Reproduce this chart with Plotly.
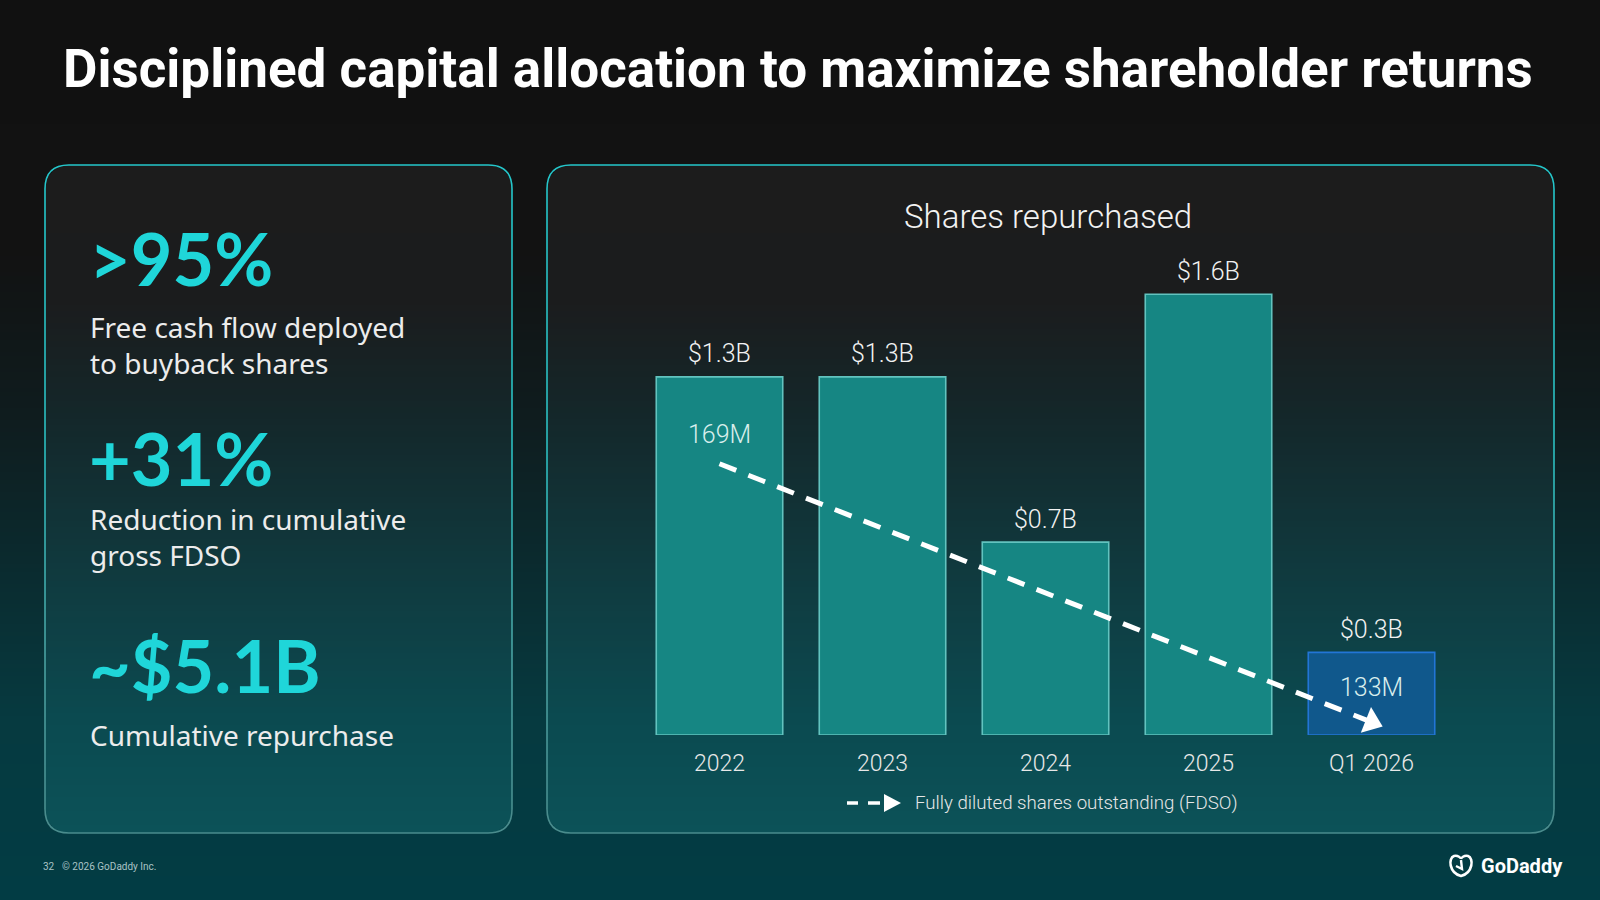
import math
import plotly.graph_objects as go

# ---------------- data ----------------
categories = ["2022", "2023", "2024", "2025", "Q1 2026"]
repurchase_b = [1.3, 1.3, 0.7, 1.6, 0.3]
repurchase_labels = ["$1.3B", "$1.3B", "$0.7B", "$1.6B", "$0.3B"]
fdso_x = ["2022", "Q1 2026"]
fdso_m = [169, 133]
fdso_labels = ["169M", "133M"]
stat_values = [">95%", "+31%", "~$5.1B"]
stat_texts = ["Free cash flow deployed<br>to buyback shares",
              "Reduction in cumulative<br>gross FDSO",
              "Cumulative repurchase"]

W, H = 1600, 900


def px(x):
    return x / W


def py(y):
    return 1 - y / H


def hex2rgb(h):
    h = h.lstrip("#")
    return tuple(int(h[i:i + 2], 16) for i in (0, 2, 4))


def interp(stops, y):
    if y <= stops[0][0]:
        return stops[0][1]
    for (y0, c0), (y1, c1) in zip(stops, stops[1:]):
        if y0 <= y <= y1:
            t = (y - y0) / (y1 - y0)
            a, b = hex2rgb(c0), hex2rgb(c1)
            return "rgb(%d,%d,%d)" % tuple(round(a[i] + (b[i] - a[i]) * t) for i in range(3))
    return stops[-1][1]


shapes = []

# background gradient
bg_stops = [(0, "#111111"), (250, "#121212"), (415, "#0f1c1e"), (720, "#063a40"), (900, "#023c44")]
for y in range(0, 900, 4):
    shapes.append(dict(type="rect", xref="paper", yref="paper", x0=0, x1=1,
                       y0=py(y + 5), y1=py(y), fillcolor=interp(bg_stops, y + 2),
                       line=dict(width=0), layer="below"))

# panels
panel_stops = [(165, "#1c1c1c"), (300, "#1b1c1d"), (415, "#14272a"), (600, "#0f3d42"), (720, "#0b4a50"), (833, "#0c5258")]
border_stops = [(165, "#25c6ca"), (450, "#2cbfc1"), (650, "#4aa3a3"), (833, "#4a8c8d")]
R = 24
panels = [(45, 512, 165, 833), (547, 1554, 165, 833)]
for (L, Rt, T, B) in panels:
    y = T
    while y < B:
        d_top = y - T
        d_bot = B - y
        step = 2 if (d_top < R + 2 or d_bot < R + 2) else 6
        yc = y + step / 2
        d = min(yc - T, B - yc)
        inset = 0
        if d < R:
            inset = R - math.sqrt(max(R * R - (R - d) ** 2, 0))
        shapes.append(dict(type="rect", xref="paper", yref="paper",
                           x0=px(L + inset), x1=px(Rt - inset),
                           y0=py(min(y + step + 0.6, B)), y1=py(y),
                           fillcolor=interp(panel_stops, yc), line=dict(width=0), layer="below"))
        y += step
    c_top = interp(border_stops, T)
    path_top = ("M %f,%f L %f,%f Q %f,%f %f,%f L %f,%f Q %f,%f %f,%f L %f,%f" % (
        px(L), py(T + R + 60), px(L), py(T + R), px(L), py(T), px(L + R), py(T),
        px(Rt - R), py(T), px(Rt), py(T), px(Rt), py(T + R), px(Rt), py(T + R + 60)))
    shapes.append(dict(type="path", xref="paper", yref="paper", path=path_top,
                       line=dict(color=c_top, width=1.6), layer="below"))
    ys = list(range(T + R + 60, B - R, 12)) + [B - R]
    for y0, y1 in zip(ys, ys[1:]):
        col = interp(border_stops, (y0 + y1) / 2)
        for xx in (L, Rt):
            shapes.append(dict(type="line", xref="paper", yref="paper", x0=px(xx), x1=px(xx),
                               y0=py(y0), y1=py(y1), line=dict(color=col, width=1.6), layer="below"))
    c_bot = interp(border_stops, B)
    path_bot = ("M %f,%f Q %f,%f %f,%f L %f,%f Q %f,%f %f,%f" % (
        px(L), py(B - R), px(L), py(B), px(L + R), py(B),
        px(Rt - R), py(B), px(Rt), py(B), px(Rt), py(B - R)))
    shapes.append(dict(type="path", xref="paper", yref="paper", path=path_bot,
                       line=dict(color=c_bot, width=1.6), layer="below"))

# legend glyph
shapes.append(dict(type="line", xref="paper", yref="paper", x0=px(847), x1=px(858), y0=py(803), y1=py(803),
                   line=dict(color="white", width=3.5)))
shapes.append(dict(type="line", xref="paper", yref="paper", x0=px(868), x1=px(880), y0=py(803), y1=py(803),
                   line=dict(color="white", width=3.5)))
shapes.append(dict(type="path", xref="paper", yref="paper",
                   path="M %f,%f L %f,%f L %f,%f Z" % (px(884), py(794), px(901), py(803), px(884), py(812)),
                   fillcolor="white", line=dict(width=0)))

# logo icon (approximate)
shapes.append(dict(type="path", xref="paper", yref="paper",
                   path=("M %f,%f C %f,%f %f,%f %f,%f C %f,%f %f,%f %f,%f C %f,%f %f,%f %f,%f C %f,%f %f,%f %f,%f Z" % (
                       px(1461), py(876),
                       px(1449), py(873), px(1448), py(858), px(1454), py(856),
                       px(1458), py(855), px(1461), py(858), px(1461), py(859),
                       px(1461), py(858), px(1464), py(855), px(1468), py(856),
                       px(1474), py(858), px(1473), py(873), px(1461), py(876))),
                   line=dict(color="white", width=2.6)))
shapes.append(dict(type="path", xref="paper", yref="paper",
                   path="M %f,%f L %f,%f L %f,%f" % (px(1456), py(866), px(1462), py(869), px(1461), py(860)),
                   line=dict(color="white", width=2.4)))

fig = go.Figure()

bar_fill = ["#168683", "#168683", "#168683", "#168683", "#10588c"]
bar_line = ["#62c3bf", "#62c3bf", "#62c3bf", "#62c3bf", "#2275d6"]
fig.add_trace(go.Bar(x=categories, y=repurchase_b, marker=dict(color=bar_fill, line=dict(color=bar_line, width=1.6)),
                     showlegend=False, hoverinfo="skip"))

fig.add_trace(go.Scatter(x=fdso_x, y=fdso_m, yaxis="y2", mode="lines+markers",
                         line=dict(color="white", width=5, dash="18px,13px"),
                         marker=dict(symbol="triangle-up", size=[0, 24], color="white", angleref="previous",
                                     line=dict(width=0), opacity=1),
                         showlegend=False, hoverinfo="skip"))

annotations = []
annotations.append(dict(xref="paper", yref="paper", x=px(61), y=py(69), xanchor="left", yanchor="middle",
                        text="<b>Disciplined capital allocation to maximize shareholder returns</b>", showarrow=False,
                        font=dict(family="Roboto", size=53, color="white")))
annotations.append(dict(xref="paper", yref="paper", x=px(1048), y=py(216), xanchor="center", yanchor="middle",
                        text="Shares repurchased", showarrow=False,
                        font=dict(family="Roboto", size=33, color="#f2f2f2", weight=300)))
# bar value labels (category index positions on the category axis)
for c, v, t in zip(categories, repurchase_b, repurchase_labels):
    annotations.append(dict(x=categories.index(c), y=v, xref="x", yref="y", yanchor="middle", yshift=23, text=t,
                            showarrow=False, font=dict(family="Roboto", size=25, color="#f2f2f2", weight=300)))
for c, v, t, s in zip(fdso_x, fdso_m, fdso_labels, [29, 35]):
    annotations.append(dict(x=categories.index(c), y=v, xref="x", yref="y2", yanchor="middle", yshift=s, text=t,
                            showarrow=False, font=dict(family="Roboto", size=25, color="#d9eeec", weight=300)))
annotations.append(dict(xref="paper", yref="paper", x=px(913), y=py(803), xanchor="left", yanchor="middle",
                        text="Fully diluted shares outstanding (FDSO)", showarrow=False,
                        font=dict(family="Roboto", size=18.7, color="#e6e6e6", weight=300)))
stat_y = [258, 458, 665]
text_y = [345, 537, 735]
for v, t, ys, yt in zip(stat_values, stat_texts, stat_y, text_y):
    annotations.append(dict(xref="paper", yref="paper", x=px(87), y=py(ys), xanchor="left", yanchor="middle",
                            text="<b>%s</b>" % v, showarrow=False,
                            font=dict(family="Lato", size=72, color="#1fd6d9")))
    annotations.append(dict(xref="paper", yref="paper", x=px(88), y=py(yt), xanchor="left", yanchor="middle",
                            text=t, showarrow=False, align="left",
                            font=dict(family="Noto Sans", size=28, color="#ececec")))
annotations.append(dict(xref="paper", yref="paper", x=px(41), y=py(866), xanchor="left", yanchor="middle",
                        text="32", showarrow=False, font=dict(family="Roboto", size=10, color="#a9c3c6")))
annotations.append(dict(xref="paper", yref="paper", x=px(60), y=py(866), xanchor="left", yanchor="middle",
                        text="© 2026 GoDaddy Inc.", showarrow=False, font=dict(family="Roboto", size=10, color="#a9c3c6")))
annotations.append(dict(xref="paper", yref="paper", x=px(1479), y=py(866), xanchor="left", yanchor="middle",
                        text="<b>GoDaddy</b>", showarrow=False, font=dict(family="Roboto", size=20, color="white")))

fig.update_layout(
    width=W, height=H, autosize=False,
    margin=dict(l=0, r=0, t=0, b=0),
    paper_bgcolor="#111111", plot_bgcolor="rgba(0,0,0,0)",
    bargap=0.224,
    shapes=shapes, annotations=annotations,
    xaxis=dict(domain=[px(638), px(1453)], type="category", range=[-0.5, 4.5],
               showgrid=False, zeroline=False, showline=False, ticks="",
               tickfont=dict(family="Roboto", size=23, color="#e8e8e8", weight=300),
               ticklabelstandoff=12, fixedrange=True),
    yaxis=dict(domain=[py(735), py(184)], range=[0, 2.0], visible=False, fixedrange=True),
    yaxis2=dict(overlaying="y", range=[131.2, 208.0], visible=False, fixedrange=True),
    font=dict(family="Roboto", color="white"),
    showlegend=False,
)

fig.write_html("out.html", config={"displayModeBar": False})
